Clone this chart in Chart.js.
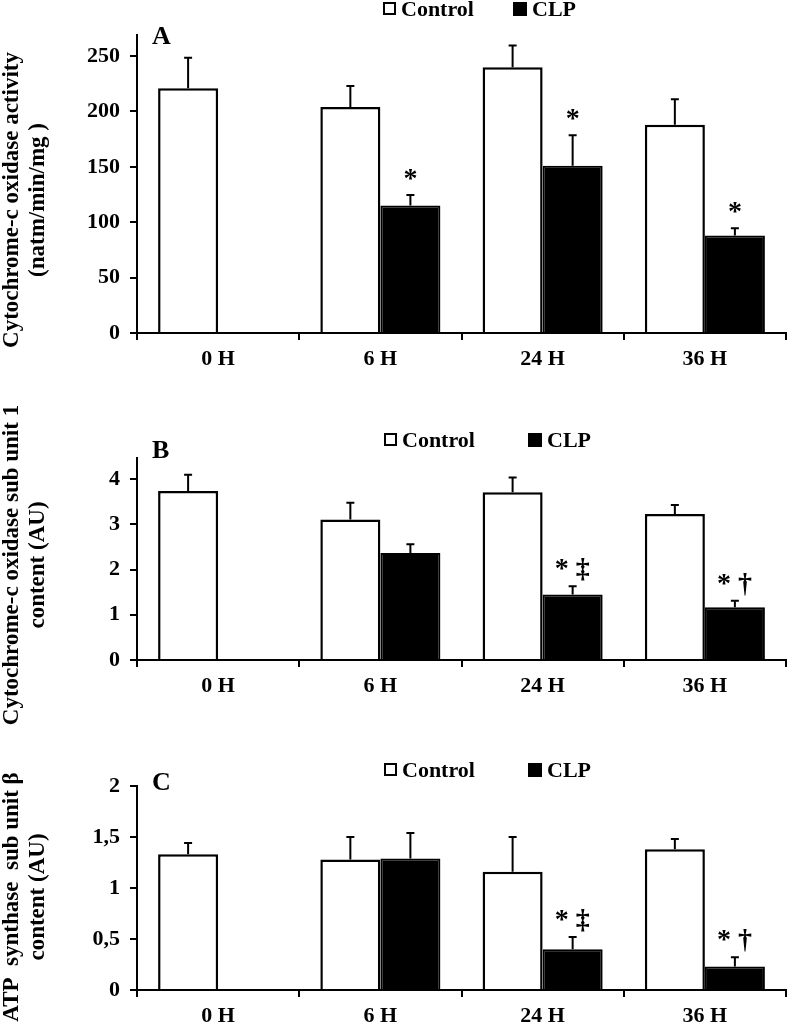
<!DOCTYPE html>
<html><head><meta charset="utf-8">
<script src="https://cdn.jsdelivr.net/npm/chart.js@4.4.0/dist/chart.umd.min.js"></script>
<style>
html,body{margin:0;padding:0;background:#fff;width:787px;height:1026px;overflow:hidden}
canvas{position:absolute;left:0;top:0}
</style></head><body>
<canvas id="cA" width="787" height="1026"></canvas>
<canvas id="cB" width="787" height="1026"></canvas>
<canvas id="cC" width="787" height="1026"></canvas>
<script>
// ---- data ----
const categories = ['0 H', '6 H', '24 H', '36 H'];
const seriesNames = ['Control', 'CLP'];

const controlA = [221, 204, 240, 188];
const controlErrA = [27.5, 19, 19.5, 23];
const clpA = [null, 115, 151, 88];
const clpErrA = [null, 9.5, 27.5, 6.5];
const annotA = [null, ['*'], ['*'], ['*']];
const ticksA = [0, 50, 100, 150, 200, 250];
const titleA = ['Cytochrome-c oxidase activity', '(natm/min/mg )'];

const controlB = [3.74, 3.11, 3.71, 3.23];
const controlErrB = [0.36, 0.37, 0.33, 0.20];
const clpB = [null, 2.37, 1.45, 1.17];
const clpErrB = [null, 0.19, 0.18, 0.14];
const annotB = [null, null, ['*', '\u2021'], ['*', '\u2020']];
const ticksB = [0, 1, 2, 3, 4];
const titleB = ['Cytochrome-c oxidase sub unit 1', 'content (AU)'];

const controlC = [1.33, 1.28, 1.16, 1.38];
const controlErrC = [0.11, 0.22, 0.34, 0.10];
const clpC = [null, 1.29, 0.40, 0.23];
const clpErrC = [null, 0.25, 0.12, 0.09];
const annotC = [null, null, ['*', '\u2021'], ['*', '\u2020']];
const ticksC = [0, 0.5, 1, 1.5, 2];
const titleC = ['ATP  synthase  sub unit \u03B2', 'content (AU)'];

// ---- styling / layout ----
const FONT = "'Liberation Serif','Times New Roman',serif";
const XH = 45;

function decor(cfg) {
  return {
    id: 'decor',
    afterDraw(chart) {
      const ctx = chart.ctx;
      const ys = chart.scales.y;
      ctx.save();
      // error bars
      ctx.strokeStyle = '#000';
      ctx.lineWidth = 2;
      const caps = [];
      chart.data.datasets.forEach((ds, i) => {
        const meta = chart.getDatasetMeta(i);
        ds.data.forEach((v, j) => {
          if (v === null || v === undefined) return;
          const bar = meta.data[j];
          const yTop = ys.getPixelForValue(v + ds.errors[j]);
          ctx.beginPath();
          ctx.moveTo(bar.x, bar.y);
          ctx.lineTo(bar.x, yTop);
          ctx.moveTo(bar.x - 4, yTop);
          ctx.lineTo(bar.x + 4, yTop);
          ctx.stroke();
          if (i === 1) caps[j] = {x: bar.x, y: yTop};
        });
      });
      // significance marks
      ctx.fillStyle = '#000';
      ctx.font = 'bold 28px ' + FONT;
      ctx.textAlign = 'center';
      ctx.textBaseline = 'alphabetic';
      cfg.annot.forEach((marks, j) => {
        if (!marks || !caps[j]) return;
        const c = caps[j];
        if (marks.length === 1) {
          ctx.fillText(marks[0], c.x, c.y - 8);
        } else {
          ctx.fillText(marks[0], c.x - 11, c.y - 9);
          ctx.fillText(marks[1], c.x + 10, c.y - 9);
        }
      });
      // legend
      const L = cfg.legend;
      ctx.lineWidth = 2;
      ctx.strokeStyle = '#000';
      ctx.fillStyle = '#fff';
      ctx.fillRect(L[0], cfg.legendY - 6, 11, 11);
      ctx.strokeRect(L[0], cfg.legendY - 6, 11, 11);
      ctx.fillStyle = '#000';
      ctx.fillRect(L[2] - 1, cfg.legendY - 7, 14, 14);
      ctx.font = 'bold 22px ' + FONT;
      ctx.textAlign = 'left';
      ctx.textBaseline = 'middle';
      ctx.fillText(chart.data.datasets[0].label, L[1], cfg.legendY + 1);
      ctx.fillText(chart.data.datasets[1].label, L[3], cfg.legendY + 1);
      // panel letter
      ctx.font = 'bold 26px ' + FONT;
      ctx.fillText(cfg.letter, 152, cfg.letterY + 1);
      // y title
      ctx.font = 'bold 23px ' + FONT;
      ctx.textAlign = 'center';
      cfg.title.forEach((t, k) => {
        ctx.save();
        ctx.translate(12 + k * 26, cfg.titleY);
        ctx.rotate(-Math.PI / 2);
        ctx.fillText(t, 0, 0);
        ctx.restore();
      });
      ctx.restore();
    }
  };
}

function makePanel(id, cfg) {
  const tickVals = cfg.ticks;
  new Chart(document.getElementById(id), {
    type: 'bar',
    data: {
      labels: categories,
      datasets: [
        {label: seriesNames[0], data: cfg.control, errors: cfg.controlErr,
         backgroundColor: '#fff', borderColor: '#000', borderWidth: 2.5, borderSkipped: 'start',
         categoryPercentage: 0.74, barPercentage: 1},
        {label: seriesNames[1], data: cfg.clp, errors: cfg.clpErr,
         backgroundColor: '#000', borderColor: '#000', borderWidth: 2, borderSkipped: 'start',
         categoryPercentage: 0.74, barPercentage: 1}
      ]
    },
    options: {
      responsive: false, animation: false, devicePixelRatio: 1,
      layout: {padding: {top: cfg.top, bottom: 1026 - cfg.bottom - XH, left: 0, right: 1}},
      plugins: {legend: {display: false}, tooltip: {enabled: false}},
      scales: {
        x: {
          grid: {display: true, drawOnChartArea: false, color: '#000', lineWidth: 2, tickLength: 7, offset: true},
          border: {color: '#000', width: 2},
          ticks: {color: '#000', font: {family: FONT, size: 22, weight: 'bold'}, padding: 6, maxRotation: 0},
          afterFit: s => { s.height = XH; }
        },
        y: {
          min: 0, max: cfg.yMax,
          grid: {display: true, drawOnChartArea: false, color: '#000', lineWidth: 2, tickLength: 7},
          border: {color: '#000', width: 2},
          ticks: {color: '#000', font: {family: FONT, size: 22, weight: 'bold'}, padding: 10,
                  callback: v => String(v).replace('.', ',')},
          afterBuildTicks: s => { s.ticks = tickVals.map(v => ({value: v})); },
          afterFit: s => { s.width = 137; }
        }
      }
    },
    plugins: [decor(cfg)]
  });
}

makePanel('cA', {control: controlA, controlErr: controlErrA, clp: clpA, clpErr: clpErrA, annot: annotA,
  ticks: ticksA, yMax: 269, top: 35, bottom: 333, legendY: 9, letterY: 36, letter: 'A',
  title: titleA, titleY: 200, legend: [384, 401, 514, 532]});
makePanel('cB', {control: controlB, controlErr: controlErrB, clp: clpB, clpErr: clpErrB, annot: annotB,
  ticks: ticksB, yMax: 4.47, top: 458, bottom: 660, legendY: 440, letterY: 450, letter: 'B',
  title: titleB, titleY: 565, legend: [385, 402, 529, 547]});
makePanel('cC', {control: controlC, controlErr: controlErrC, clp: clpC, clpErr: clpErrC, annot: annotC,
  ticks: ticksC, yMax: 2, top: 786, bottom: 990, legendY: 770, letterY: 782, letter: 'C',
  title: titleC, titleY: 897, legend: [385, 402, 529, 547]});
</script>
</body></html>
